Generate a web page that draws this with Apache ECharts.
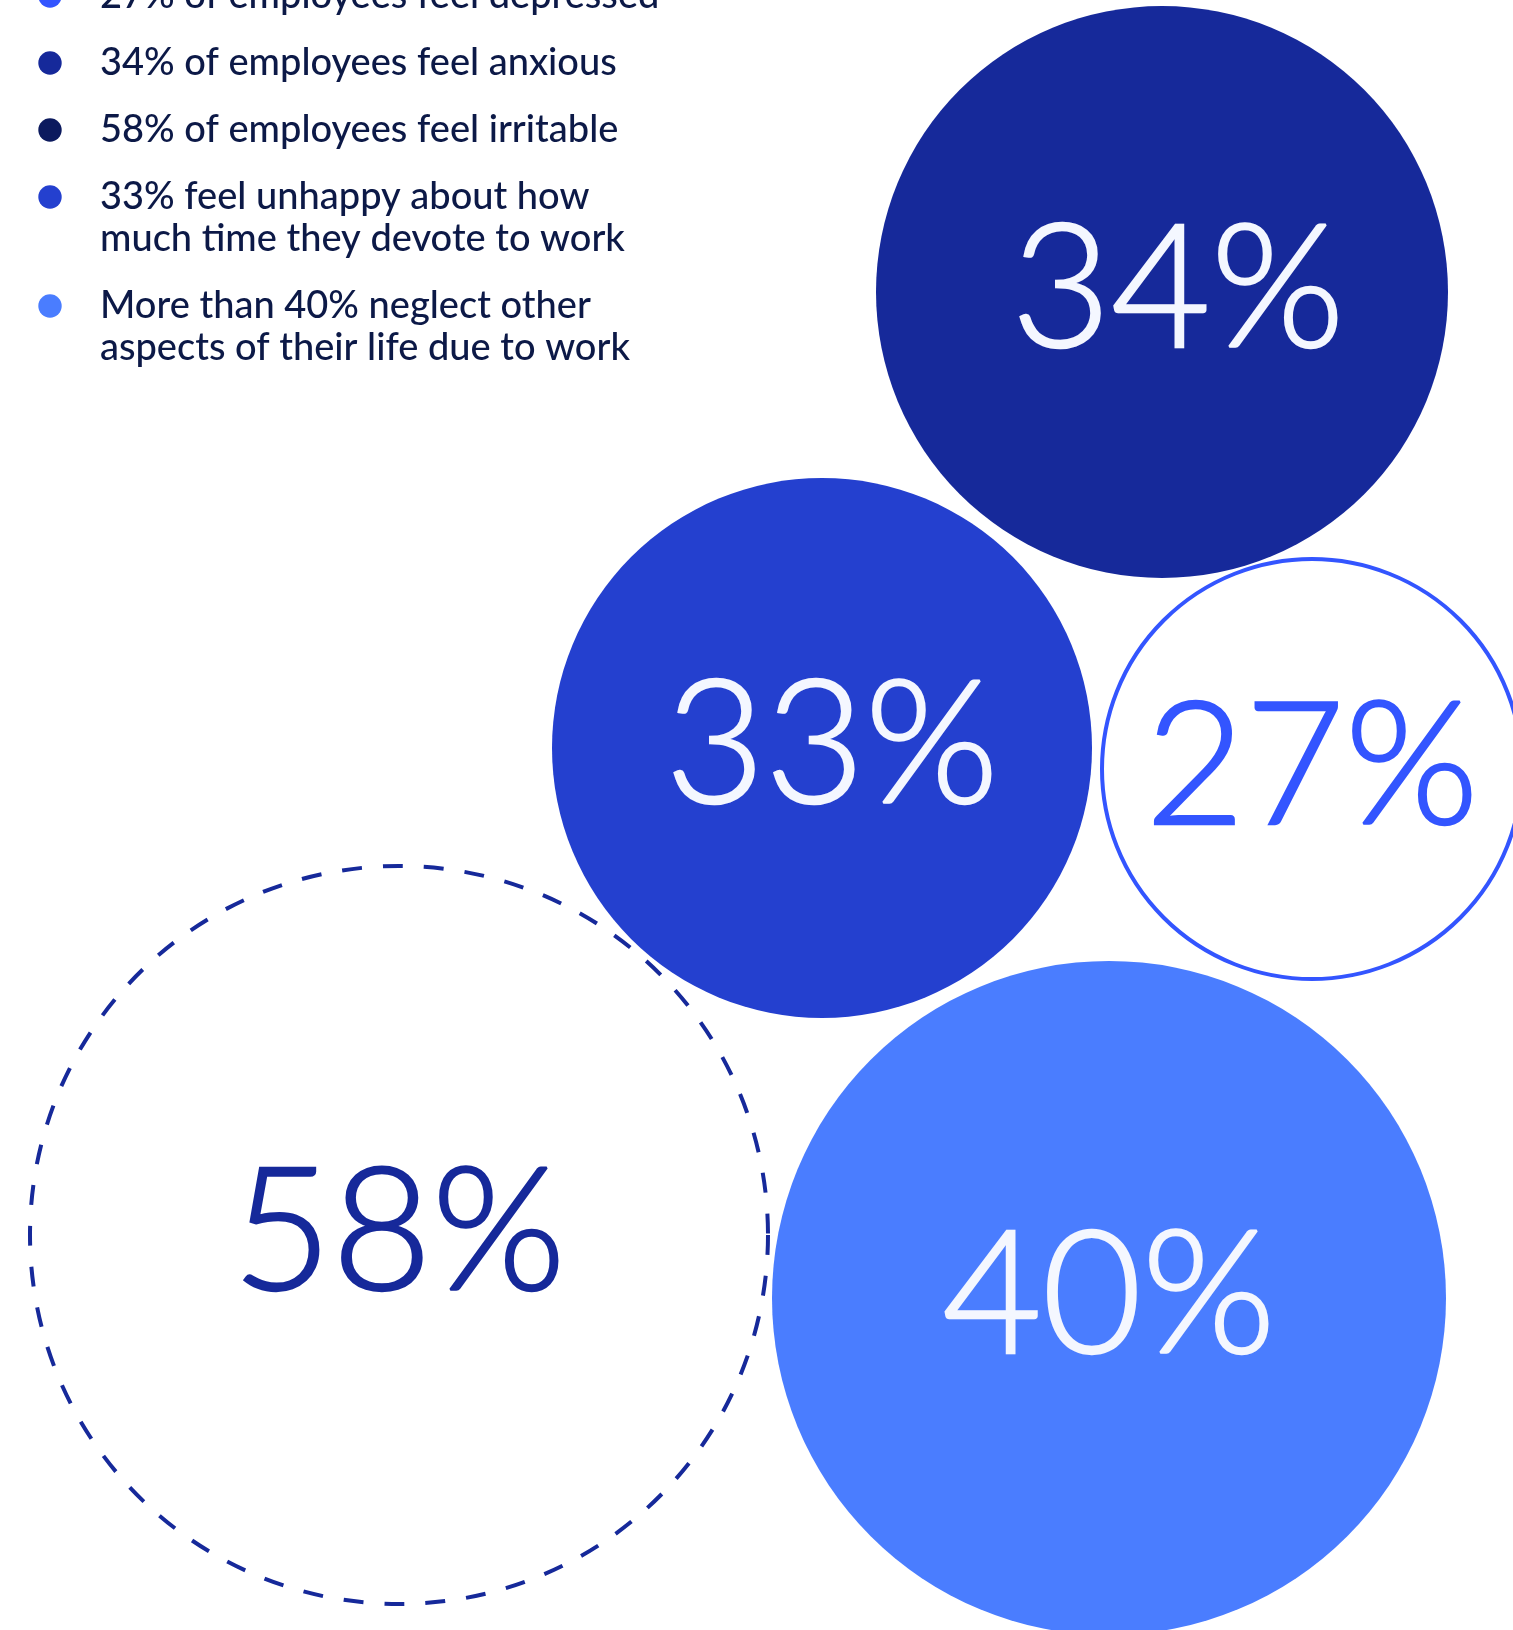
<!DOCTYPE html>
<html>
<head>
<meta charset="utf-8">
<title>Employee wellbeing</title>
<script src="https://cdn.jsdelivr.net/npm/echarts@6/dist/echarts.min.js"></script>
<style>
  html, body { margin: 0; padding: 0; background: #ffffff; }
  #chart { width: 1513px; height: 1630px; }
</style>
</head>
<body>
<div id="chart"></div>
<script>
// Survey findings, in legend order
const categories = [
  '27% of employees feel depressed',
  '34% of employees feel anxious',
  '58% of employees feel irritable',
  '33% feel unhappy about how\nmuch time they devote to work',
  'More than 40% neglect other\naspects of their life due to work'
];
const values = [27, 34, 58, 33, 40];

// Bubble layout in chart units (x to the right, y downward)
const bubbleX = [1312, 1162, 399, 822, 1109];
const bubbleY = [769, 292, 1235, 748, 1298];
const bubbleDiameter = [420, 572, 738, 540, 674];

// Order in which the bubbles are painted (dashed ring on top)
const drawOrder = [1, 3, 0, 4, 2];

const colors = ['#3355ff', '#16299a', '#0c1a5e', '#2440cf', '#4a7dff'];
const textDark = '#0c1947';
const labelLight = '#f4f7ff';

function bubbleStyle(i) {
  if (i === 0) {
    return { itemStyle: { color: '#ffffff', borderColor: colors[0], borderWidth: 4, opacity: 1 }, labelColor: colors[0] };
  }
  if (i === 2) {
    return {
      itemStyle: { color: 'rgba(255,255,255,0)', borderColor: '#16299a', borderWidth: 4, borderType: [20, 21], opacity: 1 },
      labelColor: '#16299a'
    };
  }
  return { itemStyle: { color: colors[i], borderWidth: 0, opacity: 1 }, labelColor: labelLight };
}

// The "3" glyphs sit a little to the right in the percentage numerals
function labelNudge(v) {
  return String(v).charAt(0) === '3' ? (String(v).charAt(1) === '4' ? 16 : 10) : 0;
}

const bubbleData = drawOrder.map(function (i) {
  const s = bubbleStyle(i);
  return {
    name: categories[i],
    value: [bubbleX[i], bubbleY[i], values[i]],
    symbolSize: bubbleDiameter[i],
    itemStyle: s.itemStyle,
    label: {
      color: s.labelColor,
      textBorderColor: s.labelColor,
      textBorderWidth: 2.4,
      offset: [labelNudge(values[i]), 0]
    }
  };
});

// Legend built as graphic elements: bullet + (possibly wrapped) text
const legendX = 100;
const bulletX = 50;
const lineH = 42;
const itemGap = 67;
const legendGraphics = [];
let yc = -4;
categories.forEach(function (label, i) {
  const lines = label.split('\n');
  legendGraphics.push({
    type: 'circle',
    shape: { cx: bulletX, cy: yc, r: 11.7 },
    style: { fill: colors[i] }
  });
  legendGraphics.push({
    type: 'text',
    x: legendX,
    y: yc - lineH / 2,
    style: {
      text: label,
      fill: textDark,
      font: '500 38px Lato',
      lineHeight: lineH,
      verticalAlign: 'top',
      align: 'left'
    }
  });
  yc += (lines.length - 1) * lineH + itemGap;
});

const chart = echarts.init(document.getElementById('chart'), null, { renderer: 'canvas' });
chart.setOption({
  animation: false,
  backgroundColor: '#ffffff',
  grid: { left: 0, right: 0, top: 0, bottom: 0 },
  xAxis: { type: 'value', min: 0, max: 1513, show: false },
  yAxis: { type: 'value', min: 0, max: 1630, inverse: true, show: false },
  graphic: legendGraphics,
  series: [{
    type: 'scatter',
    symbol: 'circle',
    clip: false,
    data: bubbleData,
    itemStyle: { opacity: 1 },
    label: {
      show: true,
      position: 'inside',
      formatter: function (p) { return p.value[2] + '%'; },
      fontFamily: 'Lato',
      fontWeight: 300,
      fontSize: 172
    },
    emphasis: { disabled: true }
  }]
});
</script>
</body>
</html>
